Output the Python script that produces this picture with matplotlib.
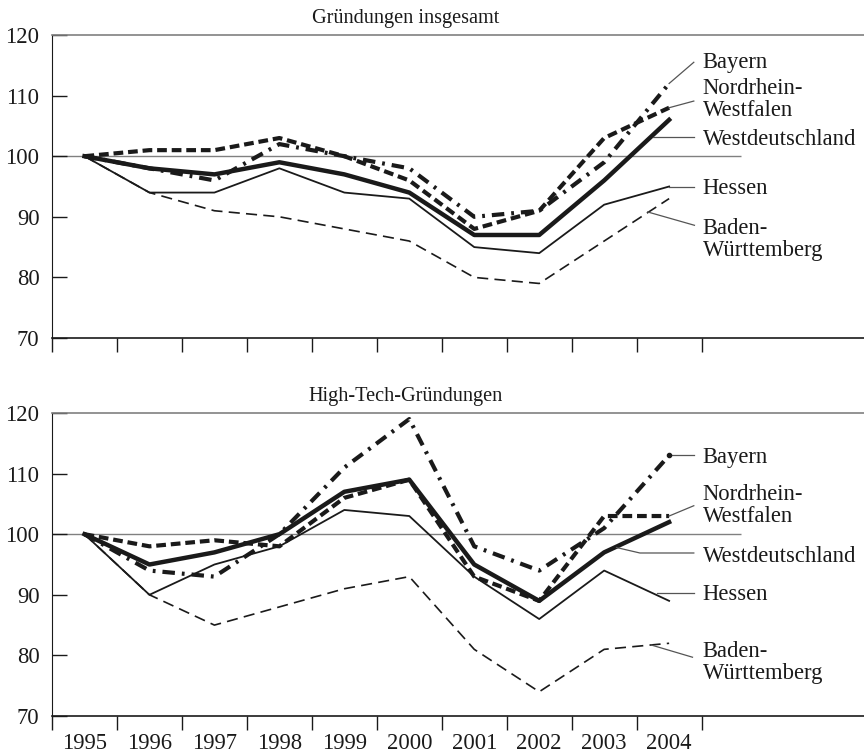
import numpy as np
import matplotlib
matplotlib.use('Agg')
import matplotlib.pyplot as plt

plt.rcParams['font.family'] = ['Liberation Serif', 'DejaVu Serif']
plt.rcParams['lines.scale_dashes'] = False

years = ['1995', '1996', '1997', '1998', '1999', '2000', '2001', '2002', '2003', '2004']

# Gruendungen insgesamt
west_ges = [100, 98, 97, 99, 97, 94, 87, 87, 96, 106]
bayern_ges = [100, 98, 96, 102, 100, 98, 90, 91, 99, 112]
nrw_ges = [100, 101, 101, 103, 100, 96, 88, 91, 103, 108]
hessen_ges = [100, 94, 94, 98, 94, 93, 85, 84, 92, 95]
bw_ges = [100, 94, 91, 90, 88, 86, 80, 79, 86, 93]

# High-Tech-Gruendungen
west_ht = [100, 95, 97, 100, 107, 109, 95, 89, 97, 102]
bayern_ht = [100, 94, 93, 100, 111, 119, 98, 94, 101, 113]
nrw_ht = [100, 98, 99, 98, 106, 109, 93, 89, 103, 103]
hessen_ht = [100, 90, 95, 98, 104, 103, 93, 86, 94, 89]
bw_ht = [100, 90, 85, 88, 91, 93, 81, 74, 81, 82]

DARK = '#1a1a1a'
GREY = '#808080'
LEAD = '#555555'
FS = 16.3


def draw_panel(ax, title, west, bayern, nrw, hessen, bw, labels, show_years):
	x = np.arange(len(years))
	ax.hlines(100, -0.5, 10.1, color=GREY, lw=1.0, zorder=1)

	ax.plot(x, bw, color=DARK, lw=1.2, dashes=(8, 4.5), zorder=2)
	ax.plot(x, hessen, color=DARK, lw=1.3, zorder=3)
	ax.plot(x, nrw, color=DARK, lw=3.0, dashes=(7, 3.5), zorder=4)
	ax.plot(x, bayern, color=DARK, lw=3.0, dashes=(9, 5, 2, 5), zorder=5)
	ax.plot(x, west, color=DARK, lw=3.2, zorder=6)

	for text, ty, pts in labels:
		xs = [p[0] for p in pts]
		ys = [p[1] for p in pts]
		ax.plot(xs, ys, color=LEAD, lw=0.9, zorder=7, clip_on=False)
		ax.text(9.52, ty, text, fontsize=FS, va='center', ha='left',
				linespacing=1.05, color=DARK)

	ax.text(4.95, 122.7, title, fontsize=14.6, ha='center', va='center',
			clip_on=False, color=DARK)

	ax.set_xlim(-0.5, 12.0)
	ax.set_ylim(70, 120)
	ax.set_yticks([70, 80, 90, 100, 110, 120])
	ax.set_xticks(np.arange(-0.5, 10, 1.0))
	ax.set_xticklabels([])
	ax.set_xticks(x, minor=True)
	if show_years:
		ax.set_xticklabels(years, minor=True)
	ax.tick_params(axis='y', direction='in', length=11, width=1.0,
				   labelsize=FS, pad=9, colors=DARK)
	ax.tick_params(axis='x', which='major', direction='out', length=10,
				   width=1.0, color=DARK)
	ax.tick_params(axis='x', which='minor', length=0, labelsize=FS, pad=12,
				   labelcolor=DARK)

	ax.spines['right'].set_visible(False)
	ax.spines['top'].set_color(GREY)
	ax.spines['top'].set_linewidth(1.2)
	ax.spines['left'].set_color(DARK)
	ax.spines['bottom'].set_color(DARK)
	ax.spines['bottom'].set_linewidth(1.2)


def main():
	fig = plt.figure(figsize=(8.64, 7.56), dpi=100)
	ax1 = fig.add_axes([0.0602, 0.5529, 0.9398, 0.4008])
	ax2 = fig.add_axes([0.0602, 0.0529, 0.9398, 0.4008])

	labels_ges = [
		('Bayern', 115.4, [(9, bayern_ges[9]), (9.38, 115.5)]),
		('Nordrhein-\nWestfalen', 109.4, [(9, nrw_ges[9]), (9.38, 109.1)]),
		('Westdeutschland', 102.7, [(8.75, 103.2), (9.38, 103.2)]),
		('Hessen', 94.6, [(9, hessen_ges[9]), (9.38, 95.0)]),
		('Baden-\nWürttemberg', 86.2, [(8.67, 90.8), (9.39, 88.6)]),
	]
	labels_ht = [
		('Bayern', 112.6, [(9, bayern_ht[9]), (9.38, 113.0)]),
		('Nordrhein-\nWestfalen', 104.8, [(9, nrw_ht[9]), (9.38, 104.7)]),
		('Westdeutschland', 96.4, [(8.19, 97.8), (8.55, 96.9), (9.38, 96.9)]),
		('Hessen', 90.0, [(8.82, 90.3), (9.38, 90.3)]),
		('Baden-\nWürttemberg', 78.8, [(8.73, 81.7), (9.36, 79.7)]),
	]

	draw_panel(ax1, 'Gründungen insgesamt', west_ges, bayern_ges, nrw_ges,
			   hessen_ges, bw_ges, labels_ges, False)
	draw_panel(ax2, 'High-Tech-Gründungen', west_ht, bayern_ht, nrw_ht,
			   hessen_ht, bw_ht, labels_ht, True)
	ax2.plot([9], [bayern_ht[9]], 'o', color=DARK, ms=3, zorder=8)

	fig.savefig('out.png', dpi=100)


if __name__ == '__main__':
	main()
